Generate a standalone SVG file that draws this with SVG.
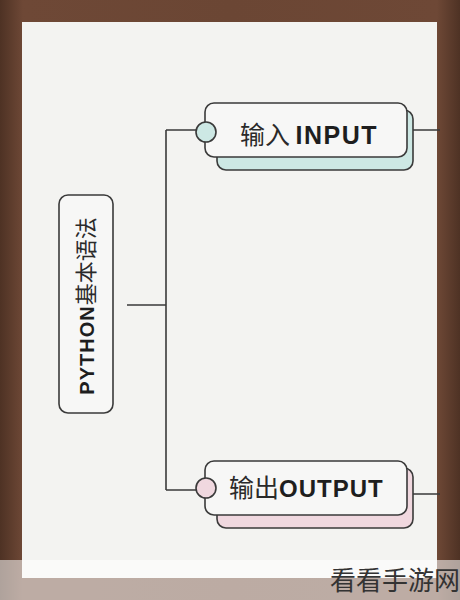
<svg xmlns="http://www.w3.org/2000/svg" width="460" height="600" viewBox="0 0 460 600">
<defs>
<linearGradient id="wood" x1="0" y1="0" x2="1" y2="0">
<stop offset="0" stop-color="#4e3224"/>
<stop offset="0.05" stop-color="#6e4836"/>
<stop offset="0.5" stop-color="#6b4634"/>
<stop offset="0.95" stop-color="#6e4836"/>
<stop offset="1" stop-color="#4e3224"/>
</linearGradient>
<style>
.line{stroke:#3a3a3a;stroke-width:1.6;fill:none}
.box{stroke:#3a3a3a;stroke-width:1.6}
.cn{font-family:"Noto Sans CJK SC","Noto Sans",sans-serif;fill:#2a2a2a}
.en{font-family:"Liberation Sans","DejaVu Sans",sans-serif;font-weight:bold;fill:#1e1e1e;letter-spacing:1.5px}
</style>
</defs>
<rect x="0" y="0" width="460" height="600" fill="url(#wood)"/>
<rect x="22" y="22" width="415" height="556" fill="#f3f3f1"/>
<g id="connectors">
<path class="line" d="M127 305 H166 M166 130 V490 M166 130 H196 M166 490 H196 M413 130 H440 M413 494 H440"/>
</g>
<g id="root">
<rect class="box" x="59" y="195" width="54" height="218" rx="9" fill="#f7f7f6"/>
<text transform="translate(94 306) rotate(-90)" text-anchor="middle" font-size="22"><tspan class="en" font-size="20" style="letter-spacing:1px">PYTHON</tspan><tspan class="cn">基本语法</tspan></text>
</g>
<g id="input">
<rect class="box" x="217" y="110" width="196" height="60" rx="9" fill="#cde8e4"/>
<rect class="box" x="205" y="103" width="202" height="54" rx="9" fill="#f7f7f6"/>
<circle class="box" cx="206" cy="132" r="10" fill="#cde8e4"/>
<text x="240" y="144" font-size="25"><tspan class="cn">输入 </tspan><tspan class="en" font-size="25">INPUT</tspan></text>
</g>
<g id="output">
<rect class="box" x="217" y="468" width="196" height="60" rx="9" fill="#f0d8df"/>
<rect class="box" x="205" y="461" width="202" height="54" rx="9" fill="#f7f7f6"/>
<circle class="box" cx="206" cy="488" r="10" fill="#f0d8df"/>
<text x="229" y="497" font-size="25"><tspan class="cn">输出</tspan><tspan class="en" font-size="24" style="letter-spacing:1px">OUTPUT</tspan></text>
</g>
<rect x="0" y="560" width="460" height="40" fill="#ffffff" opacity="0.55"/>
<text x="460" y="590" text-anchor="end" font-size="26" class="cn" style="fill:#333">看看手游网</text>
</svg>
